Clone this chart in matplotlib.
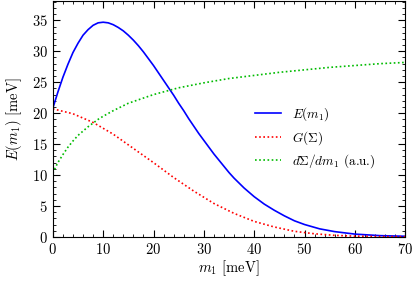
import matplotlib
matplotlib.use('Agg')
import matplotlib.pyplot as plt
from matplotlib.ticker import MultipleLocator

plt.rcParams['font.family'] = 'cmr10'
plt.rcParams['mathtext.fontset'] = 'cm'
plt.rcParams['axes.formatter.use_mathtext'] = True

# E(m1)
m_E = [0, 0.5, 1, 1.5, 2, 3, 4, 5, 6, 7, 8, 9, 10, 11, 12, 13, 14, 15, 16, 17,
       18, 19, 20, 21, 22, 23, 24, 25, 26, 27, 28, 29, 30, 31, 32, 33, 34, 35,
       36, 37, 38, 40, 42, 44, 46, 48, 50, 53, 56, 60, 65, 70]
E = [20.8, 22.1, 23.4, 24.6, 25.8, 27.9, 29.8, 31.3, 32.6, 33.5, 34.2, 34.6,
     34.7, 34.6, 34.3, 33.85, 33.3, 32.6, 31.8, 30.9, 29.9, 28.8, 27.7, 26.5,
     25.3, 24.1, 22.9, 21.6, 20.4, 19.1, 17.9, 16.7, 15.6, 14.5, 13.4, 12.4,
     11.4, 10.4, 9.5, 8.7, 7.9, 6.5, 5.3, 4.3, 3.4, 2.6, 2.0, 1.3, 0.85, 0.45,
     0.2, 0.1]

# G(Sigma)
m_G = [0, 4, 8, 12, 16, 20, 24, 28, 32, 36, 40, 44, 48, 52, 56, 60, 65, 70]
G = [20.7, 19.9, 18.5, 16.6, 14.3, 12.0, 9.6, 7.4, 5.4, 3.8, 2.5, 1.6, 0.9,
     0.5, 0.25, 0.12, 0.05, 0.02]

# dSigma/dm1 (a.u.)
m_D = [0, 0.5, 1, 2, 3, 4, 5, 6, 7, 8, 9, 10, 12, 15, 20, 25, 30, 35, 40, 45,
       50, 55, 60, 65, 70]
D = [10.3, 11.2, 12.0, 13.3, 14.5, 15.5, 16.4, 17.1, 17.8, 18.4, 19.0, 19.5,
     20.4, 21.6, 23.0, 24.1, 24.9, 25.6, 26.1, 26.6, 27.0, 27.4, 27.7, 28.0,
     28.2]

fig = plt.figure(figsize=(4.16, 2.81), dpi=100)
ax = fig.add_axes([0.127, 0.157, 0.847, 0.841])

ax.plot(m_E, E, color='#0000ff', lw=1.2, label=r'$E(m_1)$')
ax.plot(m_G, G, color='#ff0000', lw=1.2, ls=(0, (1, 1.5)), label=r'$G(\Sigma)$')
ax.plot(m_D, D, color='#00bb00', lw=1.2, ls=(0, (1, 1.5)),
        label=r'$d\Sigma/dm_1$ (a.u.)')

ax.set_xlim(0, 70)
ax.set_ylim(0, 38.2)
ax.xaxis.set_major_locator(MultipleLocator(10))
ax.xaxis.set_minor_locator(MultipleLocator(2))
ax.yaxis.set_major_locator(MultipleLocator(5))
ax.yaxis.set_minor_locator(MultipleLocator(1))
ax.tick_params(which='both', direction='in', top=True, right=True, labelsize=10.5)
ax.tick_params(which='major', length=5)
ax.tick_params(which='minor', length=2.5)

ax.set_xlabel(r'$m_1$ [meV]', fontsize=10.5, labelpad=1)
ax.set_ylabel(r'$E(m_1)$ [meV]', fontsize=10.5, labelpad=6)

ax.legend(loc='center left', bbox_to_anchor=(0.54, 0.42), frameon=False,
          fontsize=9.5, handlelength=2.0, labelspacing=0.45)

fig.savefig('out.png', dpi=100)
